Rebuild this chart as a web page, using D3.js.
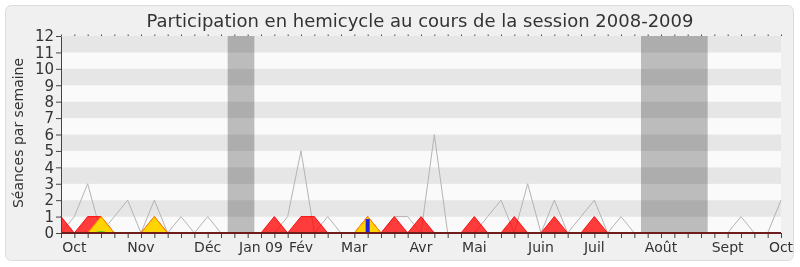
<!DOCTYPE html>
<html><head><meta charset="utf-8">
<script src="https://cdn.jsdelivr.net/npm/d3@7"></script>
<style>body{margin:0;background:#fff}svg{display:block;font-family:"DejaVu Sans",sans-serif}</style>
</head><body><svg id="c" width="800" height="267"></svg>
<script>
const title = "Participation en hemicycle au cours de la session 2008-2009";
const yTitle = "Séances par semaine";
const weeks = d3.range(0, 55);
const monthLabels = ["Oct","Nov","Déc","Jan 09","Fév","Mar","Avr","Mai","Juin","Juil","Août","Sept","Oct"];
const monthWeeks = [1,6,11,15,18,22,27,31,36,40,45,50,54];
const vacations = [[12.5,14.5],[43.5,48.5]];
const yTicks = d3.range(0, 13);
// séances totales (ligne grise)
const totalSeances = [0,1,3,0,1,2,0,2,0,1,0,1,0,0,0,0,0,1,5,0,1,0,0,0,0,1,1,0,6,0,0,0,1,2,0,3,0,2,0,1,2,0,1,0,0,0,0,0,0,0,0,1,0,0,2];
// présences (rouge)
const presences =     [1,0,1,1,0,0,0,1,0,0,0,0,0,0,0,0,1,0,1,1,0,0,0,1,0,1,0,1,0,0,0,1,0,0,1,0,0,1,0,0,1,0,0,0,0,0,0,0,0,0,0,0,0,0,0];
// interventions (jaune)
const interventions = [0,0,0,1,0,0,0,1,0,0,0,0,0,0,0,0,0,0,0,0,0,0,0,1,0,0,0,0,0,0,0,0,0,0,0,0,0,0,0,0,0,0,0,0,0,0,0,0,0,0,0,0,0,0,0];
// mots (vert)
const mots =          [0,0,0,0.1,0,0,0,0.03,0,0,0,0,0,0,0,0,0,0,0,0,0,0,0,0.04,0,0,0,0,0,0,0,0,0,0,0,0,0,0,0,0,0,0,0,0,0,0,0,0,0,0,0,0,0,0,0];
// questions (bleu)
const questionWeeks = [23];
const questionValues = [0.85];

const svg = d3.select("#c");
const L = 61, R = 781, T = 36, B = 233;
const x = d3.scaleLinear().domain([0, 54]).range([L, R]);
const y = d3.scaleLinear().domain([0, 12]).range([B, T]);

svg.append("rect").attr("x",5.5).attr("y",5.5).attr("width",788).attr("height",255)
  .attr("rx",6).attr("fill","#f0f0f0").attr("stroke","#dcdcdc");

// stripes
svg.append("g").selectAll("rect").data(d3.range(0,12)).join("rect")
  .attr("x", L).attr("width", R - L)
  .attr("y", d => y(d + 1)).attr("height", d => y(d) - y(d + 1))
  .attr("fill", d => d % 2 === 0 ? "#fafafa" : "#e6e6e6");

// vacations
svg.append("g").selectAll("rect").data(vacations).join("rect")
  .attr("x", d => x(d[0])).attr("width", d => x(d[1]) - x(d[0]))
  .attr("y", T).attr("height", B - T)
  .attr("fill", "#c0c0c0").style("mix-blend-mode", "multiply");

const area = vals => d3.area().x((d, i) => x(weeks[i])).y0(y(0)).y1(d => y(d))(vals);
const line = vals => d3.line().x((d, i) => x(weeks[i])).y(d => y(d))(vals);

svg.append("path").attr("d", line(totalSeances)).attr("fill","none").attr("stroke","#b4b4b4").attr("stroke-width",1);
svg.append("path").attr("d", area(presences)).attr("fill","rgba(255,0,0,0.76)");
svg.append("path").attr("d", line(presences)).attr("fill","none").attr("stroke","#ff1010").attr("stroke-width",1);
svg.append("path").attr("d", area(interventions)).attr("fill","#ffd400");
svg.append("path").attr("d", line(interventions)).attr("fill","none").attr("stroke","#ff8800").attr("stroke-width",1);
svg.append("path").attr("d", area(mots)).attr("fill","#00d000");
svg.append("g").selectAll("rect").data(questionWeeks).join("rect")
  .attr("x", d => x(d) - 2).attr("width", 4)
  .attr("y", (d, i) => y(questionValues[i])).attr("height", (d, i) => y(0) - y(questionValues[i]))
  .attr("fill", "#2020e0");

// x axis
const gx = svg.append("g").attr("transform", `translate(0,${B})`)
  .call(d3.axisBottom(x).tickValues(weeks).tickSize(5).tickSizeOuter(0).tickFormat(""));
gx.select(".domain").remove();
gx.selectAll(".tick line").attr("stroke","#444");
svg.append("line").attr("x1", L).attr("x2", R).attr("y1", B).attr("y2", B)
  .attr("stroke","#6e1c1c").attr("stroke-width",2);
svg.append("g").selectAll("text").data(monthWeeks).join("text")
  .attr("x", d => x(d)).attr("y", 252).attr("text-anchor","middle")
  .attr("font-size", 14).attr("fill","#333").text((d, i) => monthLabels[i]);

// top ticks
svg.append("g").selectAll("line").data(weeks).join("line")
  .attr("x1", d => x(d) + 0.5).attr("x2", d => x(d) + 0.5).attr("y1", T - 1.5).attr("y2", T)
  .attr("stroke","#444");

// y axis
const gy = svg.append("g").attr("transform", `translate(${L},0)`)
  .call(d3.axisLeft(y).tickValues(yTicks).tickSize(5).tickSizeOuter(0).tickPadding(2).tickFormat(d3.format("d")));
gy.select(".domain").attr("stroke","#444");
gy.selectAll(".tick line").attr("stroke","#444");
gy.selectAll(".tick text").attr("font-size", 15).attr("fill","#333").attr("font-family","DejaVu Sans");

svg.append("text").attr("transform","translate(23,133) rotate(-90)").attr("text-anchor","middle")
  .attr("font-size",14).attr("fill","#333").text(yTitle);
svg.append("text").attr("x",420).attr("y",27).attr("text-anchor","middle")
  .attr("font-size",18).attr("fill","#333").text(title);
</script></body></html>
